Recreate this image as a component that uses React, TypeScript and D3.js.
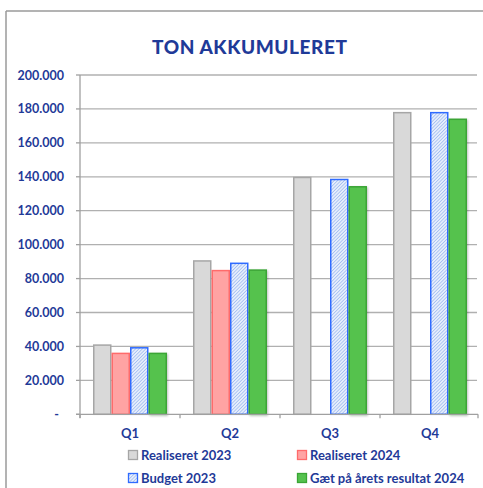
import React from "react";
import * as d3 from "d3";

const quarters = ["Q1", "Q2", "Q3", "Q4"];
const seriesNames = ["Realiseret 2023", "Realiseret 2024", "Budget 2023", "Gæt på årets resultat 2024"];
const realiseret2023 = [40800, 90400, 139600, 177800];
const realiseret2024 = [35900, 84700, 0, 0];
const budget2023 = [39200, 89000, 138400, 177800];
const gaet2024 = [35900, 85000, 134100, 173900];
const yTicks = [0, 20000, 40000, 60000, 80000, 100000, 120000, 140000, 160000, 180000, 200000];

const W = 483;
const H = 488;
const TXT = "#1f3a98";
const FONT = "Lato, 'Open Sans', sans-serif";

const styles = [
  { fill: "#d9d9d9", stroke: "#a6a6a6" },
  { fill: "#ffa3a3", stroke: "#ff6b6b" },
  { fill: "url(#hatch)", stroke: "#2f6bff" },
  { fill: "#55c24e", stroke: "#3aa535" },
];

export default function App() {
  const x0 = d3.scaleBand<string>().domain(quarters).range([80, 480]).padding(0);
  const x1 = d3
    .scaleBand<string>()
    .domain(seriesNames)
    .range([x0.bandwidth() * 0.13, x0.bandwidth() * 0.87])
    .padding(0);
  const y = d3.scaleLinear().domain([0, 200000]).range([414.3, 75]);
  const fmt = (v: number) => (v === 0 ? "-" : d3.format(",")(v).replace(/,/g, "."));
  const data = [realiseret2023, realiseret2024, budget2023, gaet2024];

  const legendItems = [
    { name: seriesNames[0], s: styles[0], x: 128, y: 455 },
    { name: seriesNames[1], s: styles[1], x: 297, y: 455 },
    { name: seriesNames[2], s: styles[2], x: 128, y: 478 },
    { name: seriesNames[3], s: styles[3], x: 297, y: 478 },
  ];

  return (
    <svg
      width={W}
      height={H}
      style={{ position: "absolute", left: 0, top: 0, background: "#fff" }}
      fontFamily={FONT}
    >
      <defs>
        <pattern id="hatch" width="2.4" height="2.4" patternUnits="userSpaceOnUse" patternTransform="rotate(45)">
          <rect width="2.4" height="2.4" fill="#e6eefc" />
          <line x1="0" y1="0" x2="0" y2="2.4" stroke="#86a8ec" strokeWidth="1.1" />
        </pattern>
        <filter id="shadow" x="-20%" y="-5%" width="140%" height="110%">
          <feGaussianBlur in="SourceAlpha" stdDeviation="0.8" />
          <feOffset dx="0.5" dy="0.5" />
          <feComponentTransfer>
            <feFuncA type="linear" slope="0.25" />
          </feComponentTransfer>
          <feMerge>
            <feMergeNode />
            <feMergeNode in="SourceGraphic" />
          </feMerge>
        </filter>
      </defs>

      {/* frame */}
      <line x1={6} y1={11} x2={W} y2={11} stroke="#9a9a9a" strokeWidth={1.5} />
      <line x1={6} y1={11} x2={6} y2={H} stroke="#9a9a9a" strokeWidth={1.5} />

      <text
        x={249.5}
        y={54}
        textAnchor="middle"
        fontSize={19}
        fontWeight="900"
        fill={TXT}
        textLength={195}
        lengthAdjust="spacing"
      >
        TON AKKUMULERET
      </text>

      {/* grid */}
      {yTicks.map((t) => (
        <g key={t}>
          {t > 0 && <line x1={80} x2={477} y1={y(t)} y2={y(t)} stroke="#b0b0b0" strokeWidth={1.3} />}
          <line x1={76} x2={80} y1={y(t)} y2={y(t)} stroke="#a0a0a0" strokeWidth={1.3} />
          <text
            x={t === 0 ? 59 : 64}
            y={y(t) + 4.5}
            textAnchor="end"
            fontSize={12.5}
            fontWeight="bold"
            fill={TXT}
          >
            {fmt(t)}
          </text>
        </g>
      ))}

      {/* bars */}
      {quarters.map((q, qi) => (
        <g key={q} transform={`translate(${x0(q)},0)`}>
          {seriesNames.map((s, si) => {
            const v = data[si][qi];
            if (!v) return null;
            const st = styles[si];
            return (
              <rect
                key={s}
                x={(x1(s) as number) + 0.75}
                y={y(v)}
                width={x1.bandwidth() - 1.5}
                height={y(0) - y(v)}
                fill={st.fill}
                stroke={st.stroke}
                strokeWidth={1.5}
                filter={si === 3 ? "url(#shadow)" : undefined}
              />
            );
          })}
        </g>
      ))}

      {/* axes */}
      <line x1={80} x2={80} y1={75} y2={418} stroke="#a0a0a0" strokeWidth={1.3} />
      <line x1={76} x2={478} y1={y(0)} y2={y(0)} stroke="#a0a0a0" strokeWidth={1.3} />
      {[...quarters.map((q) => x0(q) as number), 478].map((xv, i) => (
        <line key={i} x1={xv} x2={xv} y1={y(0)} y2={y(0) + 4} stroke="#a0a0a0" strokeWidth={1.3} />
      ))}
      {quarters.map((q) => (
        <text
          key={q}
          x={(x0(q) as number) + x0.bandwidth() / 2}
          y={438}
          textAnchor="middle"
          fontSize={13}
          fontWeight="bold"
          fill={TXT}
        >
          {q}
        </text>
      ))}

      {/* legend */}
      {legendItems.map((it) => (
        <g key={it.name}>
          <rect
            x={it.x + 0.5}
            y={it.y - 4.5}
            width={9}
            height={9}
            fill={it.s.fill}
            stroke={it.s.stroke}
            strokeWidth={1.3}
          />
          <text x={it.x + 13} y={it.y + 4.5} fontSize={13} fontWeight="bold" fill={TXT}>
            {it.name}
          </text>
        </g>
      ))}
    </svg>
  );
}
